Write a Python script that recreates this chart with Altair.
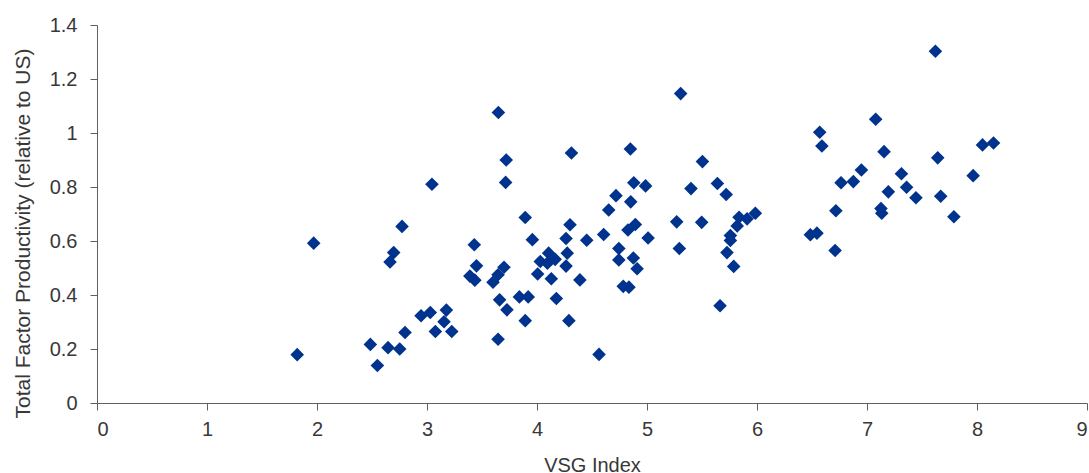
import altair as alt
import pandas as pd

# VSG index vs. total factor productivity (relative to US), one point per country
vsg_index = [
    1.82, 1.97, 2.485, 2.549, 2.646, 2.752, 2.80, 2.664, 2.697, 2.773,
    2.946, 3.03, 3.045, 3.076, 3.176, 3.155, 3.225, 3.646, 3.43, 3.45,
    3.39, 3.435, 3.649, 3.72, 3.715, 3.893, 3.958, 4.30, 4.264, 4.275,
    4.264, 4.313, 3.60, 3.646, 3.70, 3.66, 3.727, 3.893, 3.84, 3.92,
    4.006, 4.03, 4.106, 4.165, 4.095, 4.13, 4.176, 4.29, 4.39, 4.564,
    4.452, 4.606, 4.652, 4.718, 4.744, 4.744, 4.784, 4.836, 4.827, 4.894,
    4.849, 4.852, 4.88, 4.876, 4.91, 4.987, 5.01, 5.27, 5.294, 5.306,
    5.40, 5.497, 5.504, 5.64, 5.72, 5.664, 5.727, 5.758, 5.758, 5.788,
    5.82, 5.837, 5.91, 5.985, 6.485, 6.545, 6.57, 6.59, 6.71, 6.717,
    6.764, 6.876, 6.949, 7.079, 7.127, 7.134, 7.155, 7.194, 7.313, 7.36,
    7.445, 7.622, 7.643, 7.67, 7.79, 7.965, 8.05, 8.15,
]
tfp = [
    0.179, 0.592, 0.217, 0.139, 0.205, 0.200, 0.261, 0.522, 0.557, 0.654,
    0.323, 0.335, 0.810, 0.265, 0.344, 0.301, 0.265, 0.236, 0.586, 0.508,
    0.470, 0.455, 1.076, 0.900, 0.817, 0.687, 0.605, 0.660, 0.609, 0.555,
    0.507, 0.926, 0.447, 0.475, 0.503, 0.382, 0.345, 0.305, 0.393, 0.393,
    0.478, 0.524, 0.555, 0.532, 0.518, 0.460, 0.387, 0.305, 0.456, 0.180,
    0.603, 0.624, 0.715, 0.768, 0.572, 0.530, 0.432, 0.429, 0.641, 0.661,
    0.941, 0.745, 0.816, 0.537, 0.497, 0.804, 0.611, 0.671, 0.572, 1.146,
    0.794, 0.669, 0.894, 0.813, 0.772, 0.360, 0.557, 0.620, 0.602, 0.506,
    0.656, 0.688, 0.682, 0.703, 0.623, 0.629, 1.003, 0.952, 0.565, 0.712,
    0.816, 0.820, 0.863, 1.051, 0.720, 0.703, 0.931, 0.782, 0.849, 0.799,
    0.760, 1.303, 0.908, 0.766, 0.690, 0.842, 0.956, 0.963,
]

x_ticks = list(range(0, 10))
y_ticks = [0, 0.2, 0.4, 0.6, 0.8, 1.0, 1.2, 1.4]

df = pd.DataFrame({"vsg": vsg_index, "tfp": tfp})

FONT = "Liberation Sans"
AXIS_GREY = "#606060"
TEXT_GREY = "#383838"

chart = (
    alt.Chart(df)
    .mark_point(shape="diamond", filled=True, size=185, opacity=1, color="#00338D")
    .encode(
        x=alt.X(
            "vsg:Q",
            scale=alt.Scale(domain=[0, 9], nice=False, zero=True),
            axis=alt.Axis(
                title="VSG Index",
                values=x_ticks,
                format="d",
                grid=False,
                tickSize=7,
                labelPadding=9,
                labelFontSize=20,
                titleFontSize=20,
                titleFontWeight="normal",
                titleY=52,
                titleBaseline="top",
            ),
        ),
        y=alt.Y(
            "tfp:Q",
            scale=alt.Scale(domain=[0, 1.4], nice=False),
            axis=alt.Axis(
                title="Total Factor Productivity (relative to US)",
                values=y_ticks,
                format=".1~f",
                grid=False,
                tickSize=7,
                labelPadding=13,
                labelFontSize=20,
                titleFontSize=21,
                titleFontWeight="normal",
                titleAngle=-90,
                titleX=-68,
                titleY=208,
                titleBaseline="alphabetic",
                titleAlign="center",
            ),
        ),
    )
    .properties(
        width=990,
        height=378,
        autosize=alt.AutoSizeParams(type="none"),
        padding={"left": 97, "top": 25, "right": 2, "bottom": 70},
    )
    .configure_view(strokeWidth=0)
    .configure_axis(
        domainColor=AXIS_GREY,
        tickColor=AXIS_GREY,
        domainWidth=1,
        tickWidth=1,
        labelFont=FONT,
        titleFont=FONT,
        labelColor=TEXT_GREY,
        titleColor=TEXT_GREY,
    )
)

chart.save("out.html", embed_options={"renderer": "svg", "actions": False})
